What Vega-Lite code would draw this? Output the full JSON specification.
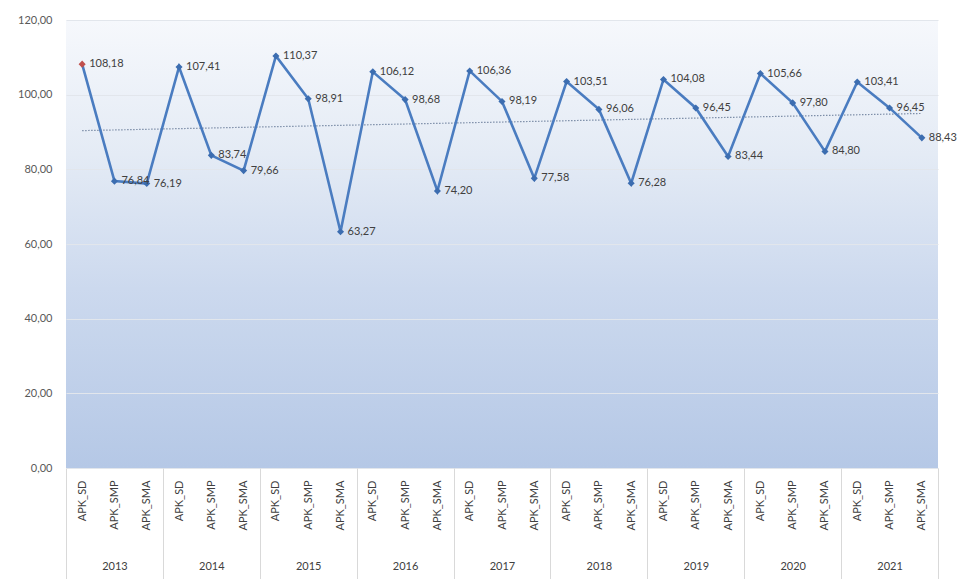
{
  "$schema": "https://vega.github.io/schema/vega-lite/v6.json",
  "width": 872,
  "height": 448,
  "autosize": "none",
  "padding": {"left": 66, "top": 20, "right": 23, "bottom": 111},
  "background": "white",
  "config": {
    "font": "Lato",
    "view": {
      "stroke": null,
      "fill": {
        "gradient": "linear", "x1": 0, "y1": 0, "x2": 0, "y2": 1,
        "stops": [
          {"offset": 0, "color": "#f6f8fc"},
          {"offset": 0.3, "color": "#e4ebf5"},
          {"offset": 0.6, "color": "#ccd9ee"},
          {"offset": 1, "color": "#b5c8e6"}
        ]
      }
    }
  },
  "data": {
    "values": [
      {"year": "2013", "cat": "APK_SD", "value": 108.18},
      {"year": "2013", "cat": "APK_SMP", "value": 76.84},
      {"year": "2013", "cat": "APK_SMA", "value": 76.19},
      {"year": "2014", "cat": "APK_SD", "value": 107.41},
      {"year": "2014", "cat": "APK_SMP", "value": 83.74},
      {"year": "2014", "cat": "APK_SMA", "value": 79.66},
      {"year": "2015", "cat": "APK_SD", "value": 110.37},
      {"year": "2015", "cat": "APK_SMP", "value": 98.91},
      {"year": "2015", "cat": "APK_SMA", "value": 63.27},
      {"year": "2016", "cat": "APK_SD", "value": 106.12},
      {"year": "2016", "cat": "APK_SMP", "value": 98.68},
      {"year": "2016", "cat": "APK_SMA", "value": 74.20},
      {"year": "2017", "cat": "APK_SD", "value": 106.36},
      {"year": "2017", "cat": "APK_SMP", "value": 98.19},
      {"year": "2017", "cat": "APK_SMA", "value": 77.58},
      {"year": "2018", "cat": "APK_SD", "value": 103.51},
      {"year": "2018", "cat": "APK_SMP", "value": 96.06},
      {"year": "2018", "cat": "APK_SMA", "value": 76.28},
      {"year": "2019", "cat": "APK_SD", "value": 104.08},
      {"year": "2019", "cat": "APK_SMP", "value": 96.45},
      {"year": "2019", "cat": "APK_SMA", "value": 83.44},
      {"year": "2020", "cat": "APK_SD", "value": 105.66},
      {"year": "2020", "cat": "APK_SMP", "value": 97.80},
      {"year": "2020", "cat": "APK_SMA", "value": 84.80},
      {"year": "2021", "cat": "APK_SD", "value": 103.41},
      {"year": "2021", "cat": "APK_SMP", "value": 96.45},
      {"year": "2021", "cat": "APK_SMA", "value": 88.43}
    ]
  },
  "transform": [
    {"window": [{"op": "row_number", "as": "idx"}]},
    {"calculate": "replace(format(datum.value, '.2f'), '.', ',')", "as": "lbl"}
  ],
  "layer": [
    {
      "transform": [{"regression": "value", "on": "idx"}],
      "mark": {"type": "line", "stroke": "#7d8ea8", "strokeWidth": 1.2, "strokeDash": [1.5, 1.5]},
      "encoding": {
        "x": {
          "field": "idx", "type": "quantitative",
          "scale": {"domain": [0.5, 27.5], "nice": false, "zero": false},
          "axis": {
            "orient": "bottom", "title": null, "grid": false, "domain": false, "labels": false,
            "values": [0.5, 3.5, 6.5, 9.5, 12.5, 15.5, 18.5, 21.5, 24.5, 27.5],
            "ticks": true, "tickSize": 111, "tickColor": "#d9d9d9", "tickWidth": 1
          }
        },
        "y": {
          "field": "value", "type": "quantitative",
          "scale": {"domain": [0, 120]},
          "axis": {
            "title": null, "values": [0, 20, 40, 60, 80, 100, 120],
            "labelExpr": "replace(format(datum.value, '.2f'), '.', ',')",
            "domain": false, "ticks": false, "labelPadding": 14, "labelFontSize": 11,
            "labelColor": "#595959", "grid": true, "gridColor": "#e2e6ec", "gridWidth": 1.2
          }
        }
      }
    },
    {
      "mark": {"type": "line", "stroke": "#4a7cc0", "strokeWidth": 2.6},
      "encoding": {
        "x": {
          "field": "idx", "type": "quantitative",
          "axis": {
            "orient": "bottom", "title": null, "grid": false, "domain": false, "ticks": false,
            "values": [1,2,3,4,5,6,7,8,9,10,11,12,13,14,15,16,17,18,19,20,21,22,23,24,25,26,27],
            "labelExpr": "['APK_SMA','APK_SD','APK_SMP'][datum.value % 3]",
            "labelAngle": 270, "labelPadding": 12, "labelFontSize": 11, "labelColor": "#404040",
            "labelOverlap": false, "labelBound": false, "labelFlush": false
          }
        },
        "y": {"field": "value", "type": "quantitative"}
      }
    },
    {
      "mark": {"type": "point", "filled": true, "shape": "diamond", "size": 50, "opacity": 1},
      "encoding": {
        "x": {"field": "idx", "type": "quantitative", "axis": null},
        "y": {"field": "value", "type": "quantitative"},
        "color": {"condition": {"test": "datum.idx == 1", "value": "#c0504d"}, "value": "#3c6db0"}
      }
    },
    {
      "mark": {"type": "text", "align": "left", "baseline": "middle", "dx": 7, "fontSize": 11, "color": "#404040"},
      "encoding": {
        "x": {
          "field": "idx", "type": "quantitative",
          "axis": {
            "orient": "bottom", "title": null, "grid": false, "domain": false, "ticks": false,
            "values": [2, 5, 8, 11, 14, 17, 20, 23, 26],
            "labelExpr": "'' + (2013 + (datum.value - 2) / 3)",
            "labelPadding": 92, "labelFontSize": 11, "labelColor": "#404040"
          }
        },
        "y": {"field": "value", "type": "quantitative"},
        "text": {"field": "lbl"}
      }
    }
  ],
  "resolve": {"axis": {"x": "independent"}}
}
